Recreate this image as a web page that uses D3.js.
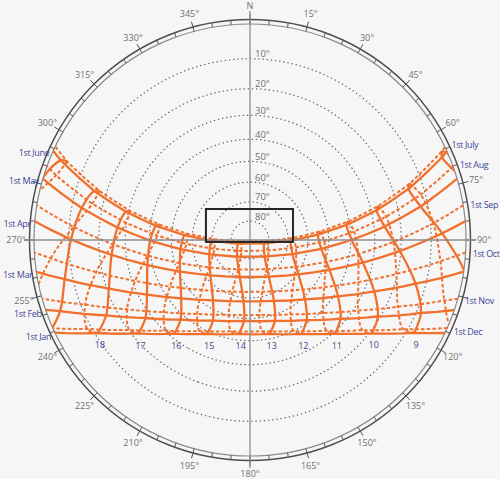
<!DOCTYPE html>
<html><head><meta charset="utf-8">
<script src="https://cdn.jsdelivr.net/npm/d3@7"></script>
<style>
html,body{margin:0;padding:0;background:#f7f6f7;}
svg{display:block;font-family:"Open Sans","DejaVu Sans",sans-serif;}
</style></head><body>
<svg id="c" width="500" height="479"></svg>
<script>
// ---- data ----
const latitude = 24;                 // site latitude, deg N
const solarNoonClock = 13.58;        // clock time of mean solar noon
const dateNames = ["1st Jan","1st Feb","1st Mar","1st Apr","1st May","1st June","1st July","1st Aug","1st Sep","1st Oct","1st Nov","1st Dec"];
const declination = [-23.0,-17.1,-7.7,4.5,15.0,22.0,23.1,18.1,8.4,-3.0,-14.3,-21.8];
const equationOfTime = [-3.2,-13.5,-12.4,-4.1,2.9,2.2,-3.8,-6.3,-0.1,10.2,16.4,11.2]; // minutes
const pathHours = [4,5,6,7,8,9,10,11,12,13,14,15,16,17,18,19,20,21,22,23];
const clockHours = [7,8,9,10,11,12,13,14,15,16,17,18,19,20];
const hourLabels = [9,10,11,12,13,14,15,16,17,18];
const altitudeRings = [10,20,30,40,50,60,70,80];
const azimuthLabels = [0,15,30,45,60,75,90,120,135,150,165,180,195,210,225,240,255,270,300,315,330,345];
const boxX = [-0.204, 0.199];   // highlight box, in horizon-radius units
const boxY = [-0.009, 0.1435];

// ---- setup ----
const W = 500, H = 479, cx = 250, cy = 240, R = 216;
const orange = "#f0702c", blue = "#3d4796", grey = "#6f6f6f";
const svg = d3.select("#c");
svg.append("rect").attr("width", W).attr("height", H).attr("fill", "#f7f6f7");

const proj = d3.geoStereographic().rotate([0, -latitude]).scale(R).translate([cx, cy]).clipAngle(90).precision(0.1);
const path = d3.geoPath(proj);
const hourAngle = d3.scaleLinear().domain([solarNoonClock, solarNoonClock + 1]).range([0, 15]);
const azAngle = d3.scaleLinear().domain([0, 360]).range([0, 2 * Math.PI]);
const unitX = d3.scaleLinear().domain([-1, 1]).range([cx - R, cx + R]);
const unitY = d3.scaleLinear().domain([-1, 1]).range([cy + R, cy - R]);
function sky(i, h) { return [-(hourAngle(h) + equationOfTime[i] / 4), declination[i]]; }
function polar(az, r) { const a = azAngle(az); return [cx + r * Math.sin(a), cy - r * Math.cos(a)]; }

svg.append("defs").append("clipPath").attr("id", "hz")
  .append("circle").attr("cx", cx).attr("cy", cy).attr("r", R);

// altitude rings
const ringG = svg.append("g");
altitudeRings.forEach(a => {
  ringG.append("path").attr("d", path(d3.geoCircle().center([0, latitude]).radius(90 - a).precision(1)()))
    .attr("fill", "none").attr("stroke", "#666").attr("stroke-width", 1.2).attr("stroke-dasharray", "1.4,2.8");
  const top = proj([0, latitude + 90 - a]);
  ringG.append("text").attr("x", cx + 5).attr("y", top[1] - 1.5).attr("font-size", 9.5).attr("fill", grey).text(a + "°");
});

// azimuth ring
const ring = svg.append("g");
ring.append("circle").attr("cx", cx).attr("cy", cy).attr("r", R).attr("fill", "none").attr("stroke", "#8a8a8a").attr("stroke-width", 1.2);
ring.append("circle").attr("cx", cx).attr("cy", cy).attr("r", R + 4.5).attr("fill", "none").attr("stroke", "#4e4e4e").attr("stroke-width", 1.5);
d3.range(0, 360, 5).forEach(a => {
  const p1 = polar(a, R), p2 = polar(a, a % 15 === 0 ? R + 10 : R + 4.5);
  ring.append("line").attr("x1", p1[0]).attr("y1", p1[1]).attr("x2", p2[0]).attr("y2", p2[1])
    .attr("stroke", "#555").attr("stroke-width", 1);
});
azimuthLabels.forEach(a => {
  const p = polar(a, 234);
  ring.append("text").attr("x", p[0]).attr("y", p[1]).attr("dy", "0.35em").attr("text-anchor", "middle")
    .attr("font-size", 9).attr("fill", grey).text(a === 0 ? "N" : a + "°");
});

// sun paths
const lines = svg.append("g").attr("fill", "none").attr("stroke", orange).attr("stroke-linejoin", "round");
declination.forEach((d, i) => {
  const ls = { type: "LineString", coordinates: pathHours.map(h => sky(i, h)) };
  lines.append("path").attr("d", path(ls))
    .attr("stroke-width", i < 6 ? 2.3 : 2)
    .attr("stroke-dasharray", i < 6 ? null : "3.5,2.2");
});
// hour lines (analemma)
const lineGen = d3.line().curve(d3.curveCatmullRom.alpha(0.5));
const hourG = lines.append("g").attr("clip-path", "url(#hz)");
clockHours.forEach(h => {
  const pts = declination.map((d, i) => proj(sky(i, h)));
  const first = [0, 1, 2, 3, 4, 5, 6].map(k => pts[k]);
  const second = [6, 7, 8, 9, 10, 11, 0].map(k => pts[k]);
  hourG.append("path").attr("d", lineGen(first)).attr("stroke-width", 2.3);
  hourG.append("path").attr("d", lineGen(second)).attr("stroke-width", 2).attr("stroke-dasharray", "3.5,2.2");
});

// axes
svg.append("line").attr("x1", cx - 226).attr("x2", cx + 226).attr("y1", cy).attr("y2", cy).attr("stroke", "#8c8c8c").attr("stroke-width", 1.3);
svg.append("line").attr("x1", cx).attr("x2", cx).attr("y1", cy - 229).attr("y2", cy + 228).attr("stroke", "#8c8c8c").attr("stroke-width", 1.3);

// highlight box
svg.append("rect").attr("x", unitX(boxX[0])).attr("y", unitY(boxY[1]))
  .attr("width", unitX(boxX[1]) - unitX(boxX[0])).attr("height", unitY(boxY[0]) - unitY(boxY[1]))
  .attr("fill", "none").attr("stroke", "#262626").attr("stroke-width", 2);

// date labels
const lab = svg.append("g").attr("fill", blue).attr("font-size", 9).attr("letter-spacing", "-0.35");
declination.forEach((d, i) => {
  const h0 = Math.acos(-Math.tan(latitude * Math.PI / 180) * Math.tan(d * Math.PI / 180)) * 180 / Math.PI;
  const west = i < 6;
  const p = proj([west ? -h0 : h0, d]);
  const k = (west ? 220 : 223) / R;
  lab.append("text").attr("x", cx + (p[0] - cx) * k).attr("y", cy + (p[1] - cy) * k + (west ? 3 : 1))
    .attr("dy", "0.35em").attr("text-anchor", west ? "end" : "start").text(dateNames[i]);
});
// hour labels
hourLabels.forEach(h => {
  const p = proj(sky(0, h));
  lab.append("text").attr("x", p[0] + 2).attr("y", p[1] + 12).attr("dy", "0.35em")
    .attr("text-anchor", "middle").attr("letter-spacing", "0").text(h);
});
</script></body></html>
